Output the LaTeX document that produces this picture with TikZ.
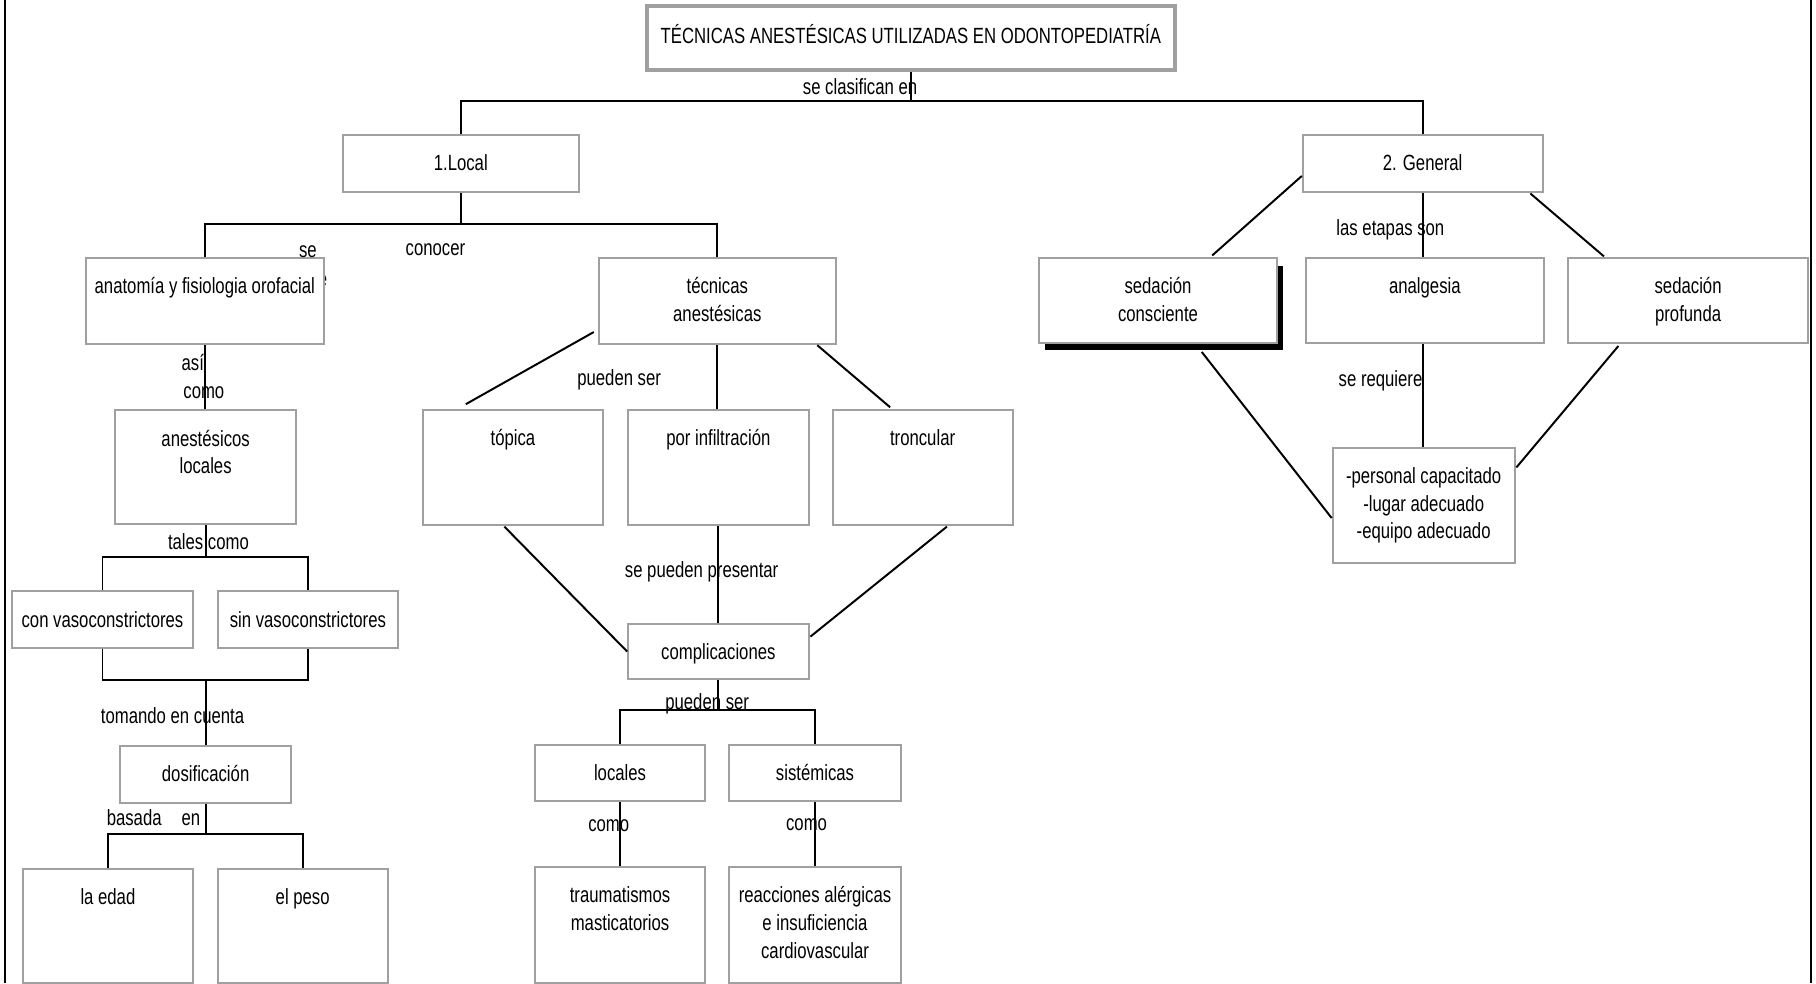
\documentclass[tikz,border=0pt]{standalone}
\usepackage{fontspec}
\setmainfont{Liberation Sans}[FakeStretch=0.76]
\usetikzlibrary{calc,shadows}
\definecolor{boxgray}{RGB}{160,160,160}
\newcommand\bxstrut{\rule{0pt}{8.4pt}}

\begin{document}
\begin{tikzpicture}[x=0.5pt,y=-0.5pt,
  every node/.style={font=\fontsize{9.5}{12}\selectfont},
  box/.style={draw=boxgray, line width=0.85pt, fill=white, inner sep=0pt, anchor=north west},
  sz/.style 2 args={minimum width=#1*0.5pt, minimum height=#2*0.5pt},
  bt/.style={anchor=north, inner sep=0pt, align=center},
  lbl/.style={anchor=base, inner sep=0pt, yshift=-3.2pt},
  link/.style={line width=0.85pt, black},
  frame/.style={line width=0.9pt, black},
]
\useasboundingbox (0,0) rectangle (1568,849);

% page frame (left and right rules)
\draw[frame] (4.3,0) -- (4.3,849);
\draw[frame] (1563.5,0) -- (1563.5,849);

% partly hidden word behind the first box
\node[lbl] (hid) at (278.5,241) {e};

% ---------- boxes ----------
\node[box, sz={456}{55.5}, draw=boxgray, line width=1.8pt] (title) at (556.6,3.5) {};
\node[box, sz={204}{48.6}] (local)   at (295,116) {};
\node[box, sz={207}{48.6}] (general) at (1124,116) {};

\node[box, sz={206}{74}] (anat) at (73,222) {};
\node[box, sz={205}{74}] (tec)  at (516,222) {};

\node[box, sz={206}{73}, general shadow={fill=black, shadow xshift=2.5pt, shadow yshift=-3.2pt}] (sedc) at (896,222) {};
\node[box, sz={206}{73}]   (analg) at (1126.4,222) {};
\node[box, sz={206.6}{73}] (sedp)  at (1353.4,222) {};

\node[box, sz={156}{98.5}]   (anest)  at (98.7,353.5) {};
\node[box, sz={155.7}{99.7}] (topica) at (364.2,353) {};
\node[box, sz={155.8}{99.7}] (porinf) at (541.5,353) {};
\node[box, sz={155.5}{99.7}] (tronc)  at (718,353) {};
\node[box, sz={157.2}{99.9}] (pers)   at (1149.8,385.7) {};

\node[box, sz={156.3}{48.5}] (con)   at (9.5,509.8) {};
\node[box, sz={156}{48.5}]   (sin)   at (187,509.8) {};
\node[box, sz={155.8}{48}]   (compl) at (541.5,537.7) {};

\node[box, sz={147.4}{48.8}] (dosif) at (103,643.4) {};
\node[box, sz={147}{48.7}]   (loc)   at (461,642.3) {};
\node[box, sz={147.7}{48.7}] (sist)  at (629,642.3) {};

\node[box, sz={147.3}{98.4}] (edad)  at (18.7,749.3) {};
\node[box, sz={147}{98.4}]   (peso)  at (187,749.3) {};
\node[box, sz={147}{99.9}]   (traum) at (461,747.8) {};
\node[box, sz={147.7}{99.9}] (reac)  at (629,747.8) {};

% ---------- box texts ----------
\node[anchor=base, inner sep=0pt, yshift=-2.4pt] (t-title) at (title.center)
  {TÉCNICAS ANESTÉSICAS UTILIZADAS EN ODONTOPEDIATRÍA};
\node[bt] (t-local)   at ($(local.north)+(0,14.4)$)   {\bxstrut 1.Local};
\node[bt] (t-general) at ($(general.north)+(0,14.4)$) {\bxstrut 2. General};
\node[bt] (t-anat)    at ($(anat.north)+(0,14.4)$)    {\bxstrut anatomía y fisiologia orofacial};
\node[bt] (t-tec)     at ($(tec.north)+(0,14.4)$)     {\bxstrut técnicas\\anestésicas};
\node[bt] (t-sedc)    at ($(sedc.north)+(0,14.4)$)    {\bxstrut sedación\\consciente};
\node[bt] (t-analg)   at ($(analg.north)+(0,14.4)$)   {\bxstrut analgesia};
\node[bt] (t-sedp)    at ($(sedp.north)+(0,14.4)$)    {\bxstrut sedación\\profunda};
\node[bt] (t-anest)   at ($(anest.north)+(0,14.4)$)   {\bxstrut anestésicos\\locales};
\node[bt] (t-topica)  at ($(topica.north)+(0,14.4)$)  {\bxstrut tópica};
\node[bt] (t-porinf)  at ($(porinf.north)+(0,14.4)$)  {\bxstrut por infiltración};
\node[bt] (t-tronc)   at ($(tronc.north)+(0,14.4)$)   {\bxstrut troncular};
\node[bt] (t-pers)    at ($(pers.north)+(0,14.4)$)    {\bxstrut -personal capacitado\\-lugar adecuado\\-equipo adecuado};
\node[bt] (t-con)     at ($(con.north)+(0,14.4)$)     {\bxstrut con vasoconstrictores};
\node[bt] (t-sin)     at ($(sin.north)+(0,14.4)$)     {\bxstrut sin vasoconstrictores};
\node[bt] (t-compl)   at ($(compl.north)+(0,14.4)$)   {\bxstrut complicaciones};
\node[bt] (t-dosif)   at ($(dosif.north)+(0,14.4)$)   {\bxstrut dosificación};
\node[bt] (t-loc)     at ($(loc.north)+(0,14.4)$)     {\bxstrut locales};
\node[bt] (t-sist)    at ($(sist.north)+(0,14.4)$)    {\bxstrut sistémicas};
\node[bt] (t-edad)    at ($(edad.north)+(0,14.4)$)    {\bxstrut la edad};
\node[bt] (t-peso)    at ($(peso.north)+(0,14.4)$)    {\bxstrut el peso};
\node[bt] (t-traum)   at ($(traum.north)+(0,14.4)$)   {\bxstrut traumatismos\\masticatorios};
\node[bt] (t-reac)    at ($(reac.north)+(0,14.4)$)    {\bxstrut reacciones alérgicas\\e insuficiencia\\cardiovascular};

% ---------- connectors ----------
\coordinate (bar1) at (0,87.2);
\coordinate (bar2) at (0,193.4);
\coordinate (bar3) at (0,613);
\coordinate (bar4) at (0,481);
\coordinate (bar5) at (0,587);
\coordinate (bar6) at (0,720.4);

\draw[link] (title.south) -- (title.south |- bar1);
\draw[link] (local.north) |- (general.north |- bar1) -- (general.north);

\draw[link] (local.south) -- (local.south |- bar2);
\draw[link] (anat.north) |- (tec.north |- bar2) -- (tec.north);

\draw[link] ($(tec.south west)+(-3.3,-11)$) -- ($(topica.north west)+(38,-4)$);
\draw[link] (tec.south) -- (tec.south |- porinf.north);
\draw[link] ($(tec.south east)+(-17,0.4)$) -- ($(tronc.north west)+(50.6,-1.3)$);

\draw[link] ($(topica.south)+(-7.4,0.3)$) -- (compl.west);
\draw[link] (porinf.south) -- (compl.north);
\draw[link] ($(tronc.south)+(21,0.3)$) -- ($(compl.north east)+(0.7,12)$);

\draw[link] (compl.south) -- (compl.south |- bar3);
\draw[link] (loc.north) |- (sist.north |- bar3) -- (sist.north);
\draw[link] (loc.south) -- (traum.north);
\draw[link] (sist.south) -- (reac.north);

\draw[link] (anat.south) -- (anat.south |- anest.north);
\draw[link] (anest.south) -- (anest.south |- bar4);
\draw[link] (con.north) |- (sin.north |- bar4) -- (sin.north);
\draw[link] (con.south) |- (sin.south |- bar5) -- (sin.south);
\draw[link] (dosif.north |- bar5) -- (dosif.north);
\draw[link] (dosif.south) -- (dosif.south |- bar6);
\draw[link] (edad.north) |- (peso.north |- bar6) -- (peso.north);

\draw[link] (general.south) -- (general.south |- analg.north);
\draw[link] ($(general.west)+(0,10.8)$) -- ($(sedc.north)+(46.8,-1.4)$);
\draw[link] ($(general.south east)+(-11.3,0.8)$) -- ($(sedp.north west)+(31.5,-0.6)$);
\draw[link] (analg.south -| general.south) -- (pers.north -| general.south);
\draw[link] ($(sedc.south)+(37.8,7.2)$) -- ($(pers.south west)+(0,-40)$);
\draw[link] ($(sedp.south west)+(44,2)$) -- ($(pers.north east)+(0.6,17.9)$);

% ---------- connector labels ----------
\node[lbl] (l-clas)  at (742.6,75.4)  {se clasifican en};
\node[lbl] (l-se)    at (265.8,216)   {se};
\node[lbl] (l-con)   at (376,214.4)   {conocer};
\node[lbl] (l-asi)   at (166.5,313.8) {así};
\node[lbl] (l-como1) at (176,338)     {como};
\node[lbl] (l-pued1) at (534.6,326.7) {pueden ser};
\node[lbl] (l-tales) at (180,468.4)   {tales como};
\node[lbl] (l-toma)  at (149,618.3)   {tomando en cuenta};
\node[lbl] (l-basa)  at (132.5,706.6) {basada\hspace*{8.6pt}en};
\node[lbl] (l-pres)  at (605.8,492.2) {se pueden presentar};
\node[lbl] (l-pued2) at (610.6,605.8) {pueden ser};
\node[lbl] (l-como2) at (525.6,711.6) {como};
\node[lbl] (l-como3) at (696.4,710.5) {como};
\node[lbl] (l-etap)  at (1200.5,197)  {las etapas son};
\node[lbl] (l-req)   at (1192,327.6)  {se requiere};
\end{tikzpicture}
\end{document}
